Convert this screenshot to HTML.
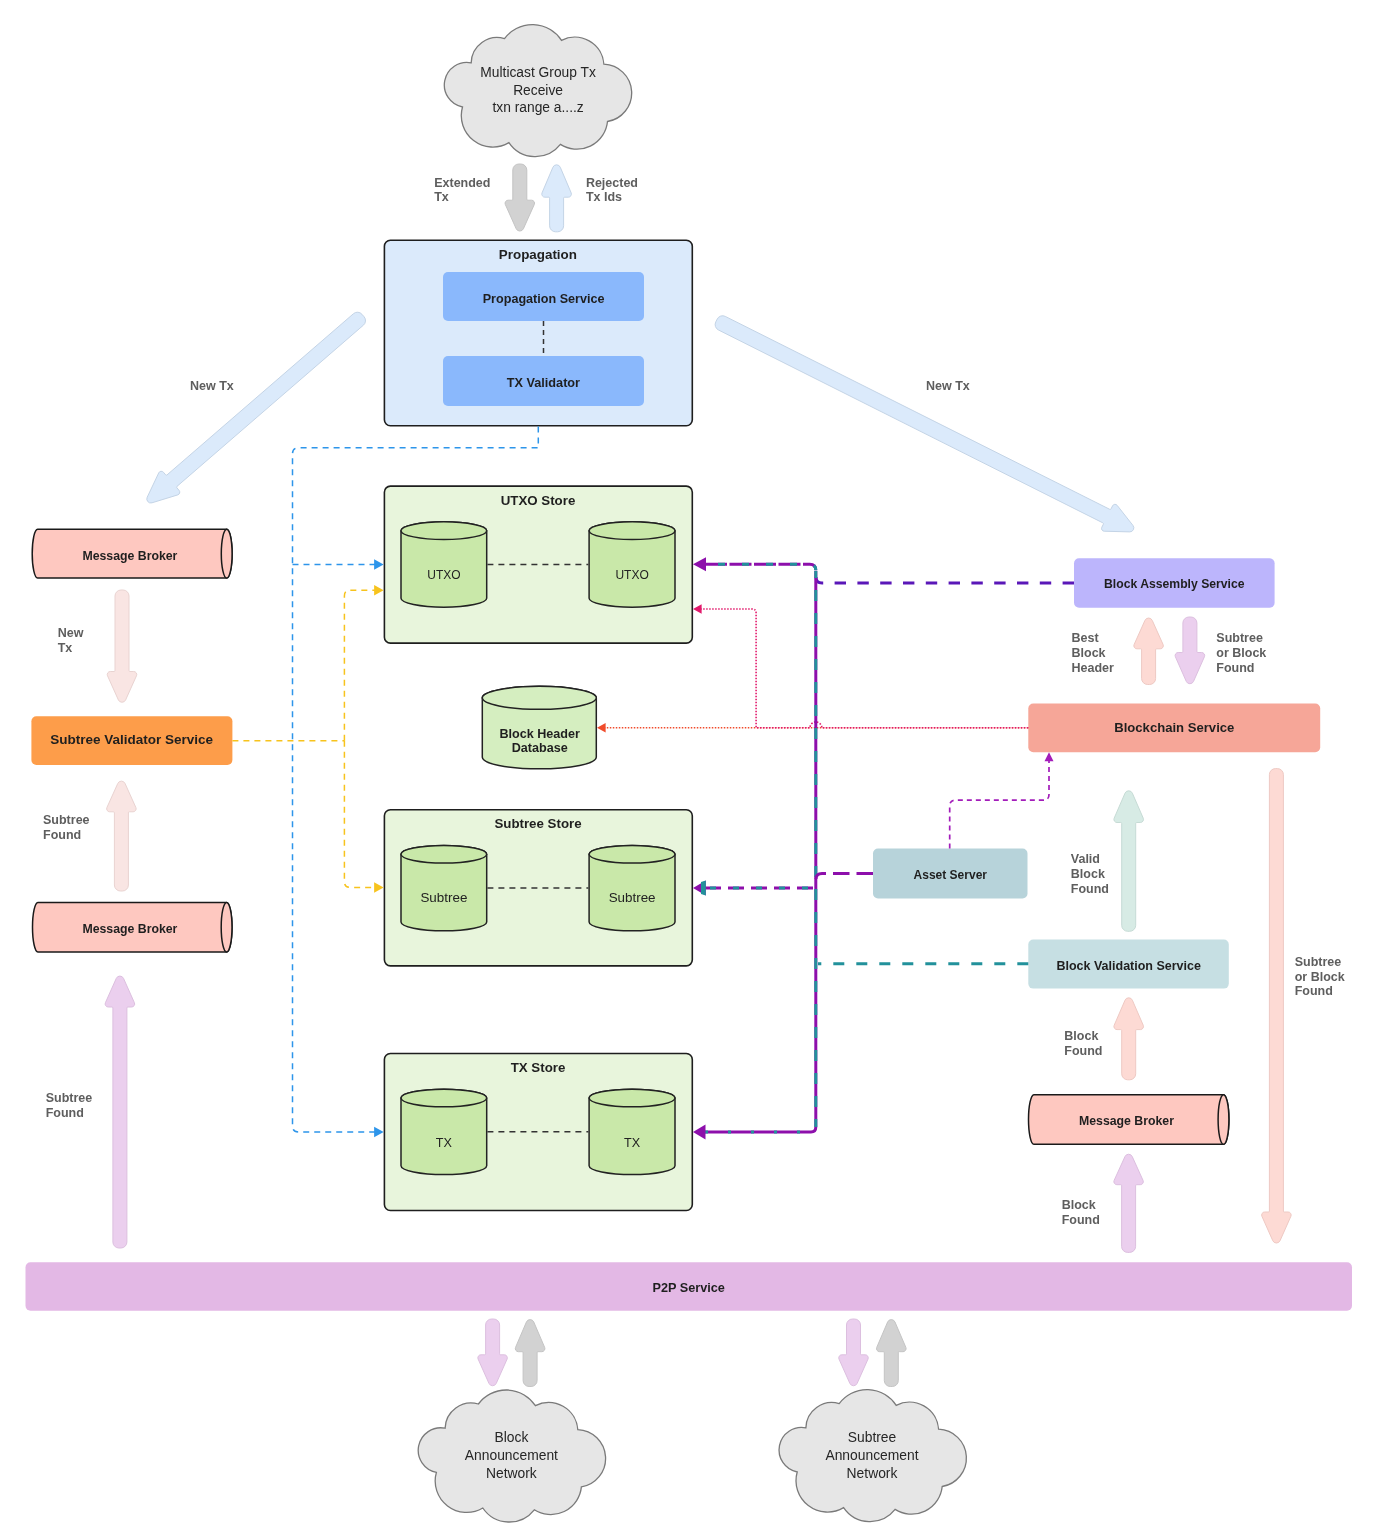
<!DOCTYPE html>
<html><head><meta charset="utf-8"><title>Teranode Architecture</title>
<style>html,body{margin:0;padding:0;background:#fff;} svg{display:block;will-change:transform;} text{font-family:"Liberation Sans", sans-serif;}</style>
</head><body>
<svg width="1379" height="1538" viewBox="0 0 1379 1538">
<rect width="1379" height="1538" fill="#ffffff"/>
<path d="M471.2,62.8 A26.01,26.01 0 0 1 504.5,38.6 A34.81,34.81 0 0 1 561.5,40.3 A29.13,29.13 0 0 1 603.9,64.2 A28.85,28.85 0 0 1 607.5,121.5 A30.77,30.77 0 0 1 560.4,144.4 A31.9,31.9 0 0 1 508.9,142.6 A31.46,31.46 0 0 1 462.5,107 A22.52,22.52 0 0 1 471.2,62.8 Z" fill="#e6e6e6" stroke="#7a7a7a" stroke-width="1.3"/>
<path d="M445.1,1428.2 A26.01,26.01 0 0 1 478.4,1404 A34.81,34.81 0 0 1 535.4,1405.7 A29.13,29.13 0 0 1 577.8,1429.6 A28.85,28.85 0 0 1 581.4,1486.9 A30.77,30.77 0 0 1 534.3,1509.8 A31.9,31.9 0 0 1 482.8,1508 A31.46,31.46 0 0 1 436.4,1472.4 A22.52,22.52 0 0 1 445.1,1428.2 Z" fill="#e6e6e6" stroke="#7a7a7a" stroke-width="1.3"/>
<path d="M805.9,1427.8 A26.01,26.01 0 0 1 839.2,1403.6 A34.81,34.81 0 0 1 896.2,1405.3 A29.13,29.13 0 0 1 938.6,1429.2 A28.85,28.85 0 0 1 942.2,1486.5 A30.77,30.77 0 0 1 895.1,1509.4 A31.9,31.9 0 0 1 843.6,1507.6 A31.46,31.46 0 0 1 797.2,1472 A22.52,22.52 0 0 1 805.9,1427.8 Z" fill="#e6e6e6" stroke="#7a7a7a" stroke-width="1.3"/>
<text x="538.1" y="76.6" font-size="13.8" font-weight="normal" fill="#262626" text-anchor="middle">Multicast Group Tx</text>
<text x="538.1" y="94.5" font-size="13.8" font-weight="normal" fill="#262626" text-anchor="middle">Receive</text>
<text x="538.1" y="112.4" font-size="13.8" font-weight="normal" fill="#262626" text-anchor="middle">txn range a....z</text>
<text x="511.4" y="1442.4" font-size="13.85" font-weight="normal" fill="#262626" text-anchor="middle">Block</text>
<text x="511.4" y="1460.4" font-size="13.85" font-weight="normal" fill="#262626" text-anchor="middle">Announcement</text>
<text x="511.4" y="1478.4" font-size="13.85" font-weight="normal" fill="#262626" text-anchor="middle">Network</text>
<text x="872" y="1441.8" font-size="13.85" font-weight="normal" fill="#262626" text-anchor="middle">Subtree</text>
<text x="872" y="1459.8" font-size="13.85" font-weight="normal" fill="#262626" text-anchor="middle">Announcement</text>
<text x="872" y="1477.8" font-size="13.85" font-weight="normal" fill="#262626" text-anchor="middle">Network</text>
<path d="M518.8,164 A6,6 0 0 0 512.8,170 L512.8,199.2 A1,1 0 0 1 511.8,200.2 L508.1,200.2 A3.05,3.05 0 0 0 505.32,204.49 L516.15,228.68 A4,4 0 0 0 523.45,228.68 L534.28,204.49 A3.05,3.05 0 0 0 531.5,200.2 L527.8,200.2 A1,1 0 0 1 526.8,199.2 L526.8,170 A6,6 0 0 0 520.8,164 Z" fill="#d2d2d2" stroke="#c4c4c4" stroke-width="1"/>
<path d="M557.6,231.8 A6,6 0 0 0 563.6,225.8 L563.6,198.2 A1,1 0 0 1 564.6,197.2 L568.3,197.2 A3.11,3.11 0 0 0 571.16,192.87 L560.28,167.26 A4,4 0 0 0 552.92,167.26 L542.04,192.87 A3.11,3.11 0 0 0 544.9,197.2 L548.6,197.2 A1,1 0 0 1 549.6,198.2 L549.6,225.8 A6,6 0 0 0 555.6,231.8 Z" fill="#dbeafb" stroke="#c4d4e6" stroke-width="1"/>
<path d="M361.95,314.29 A6,6 0 0 0 353.49,313.68 L167.04,474.9 A1,1 0 0 1 165.63,474.8 L163.44,472.26 A2.83,2.83 0 0 0 158.73,472.9 L147.2,497.26 A4,4 0 0 0 151.98,502.8 L177.76,494.9 A2.83,2.83 0 0 0 179.07,490.34 L176.88,487.81 A1,1 0 0 1 176.98,486.4 L363.43,325.17 A6,6 0 0 0 364.05,316.71 Z" fill="#dbeafb" stroke="#c4d4e6" stroke-width="1"/>
<path d="M715.78,321.93 A6,6 0 0 0 718.45,329.98 L1102.88,522.89 A1,1 0 0 1 1103.33,524.23 L1101.83,527.23 A2.76,2.76 0 0 0 1104.22,531.23 L1129.7,531.89 A4,4 0 0 0 1132.95,525.42 L1117.19,505.39 A2.76,2.76 0 0 0 1112.55,505.86 L1111.04,508.86 A1,1 0 0 1 1109.7,509.3 L725.27,316.4 A6,6 0 0 0 717.22,319.07 Z" fill="#dbeafb" stroke="#c4d4e6" stroke-width="1"/>
<path d="M121,590 A6,6 0 0 0 115,596 L115,670.5 A1,1 0 0 1 114,671.5 L110.3,671.5 A3.04,3.04 0 0 0 107.53,675.79 L118.35,699.89 A4,4 0 0 0 125.65,699.89 L136.47,675.79 A3.04,3.04 0 0 0 133.7,671.5 L130,671.5 A1,1 0 0 1 129,670.5 L129,596 A6,6 0 0 0 123,590 Z" fill="#f9e5e3" stroke="#e9d3d1" stroke-width="1"/>
<path d="M122.4,891 A6,6 0 0 0 128.4,885 L128.4,812.8 A1,1 0 0 1 129.4,811.8 L133.1,811.8 A3.04,3.04 0 0 0 135.87,807.52 L125.05,783.5 A4,4 0 0 0 117.75,783.5 L106.93,807.52 A3.04,3.04 0 0 0 109.7,811.8 L113.4,811.8 A1,1 0 0 1 114.4,812.8 L114.4,885 A6,6 0 0 0 120.4,891 Z" fill="#f9e5e3" stroke="#e9d3d1" stroke-width="1"/>
<path d="M120.9,1248 A6,6 0 0 0 126.9,1242 L126.9,1008 A1,1 0 0 1 127.9,1007 L131.6,1007 A3.05,3.05 0 0 0 134.39,1002.71 L123.55,978.43 A4,4 0 0 0 116.25,978.43 L105.41,1002.71 A3.05,3.05 0 0 0 108.2,1007 L111.9,1007 A1,1 0 0 1 112.9,1008 L112.9,1242 A6,6 0 0 0 118.9,1248 Z" fill="#ebcfee" stroke="#dcbfdf" stroke-width="1"/>
<path d="M1149.6,684.5 A6,6 0 0 0 1155.6,678.5 L1155.6,649.8 A1,1 0 0 1 1156.6,648.8 L1160.3,648.8 A3.04,3.04 0 0 0 1163.07,644.51 L1152.25,620.41 A4,4 0 0 0 1144.95,620.41 L1134.13,644.51 A3.04,3.04 0 0 0 1136.9,648.8 L1140.6,648.8 A1,1 0 0 1 1141.6,649.8 L1141.6,678.5 A6,6 0 0 0 1147.6,684.5 Z" fill="#fddad4" stroke="#eec9c3" stroke-width="1"/>
<path d="M1188.9,617 A6,6 0 0 0 1182.9,623 L1182.9,651.5 A1,1 0 0 1 1181.9,652.5 L1178.2,652.5 A3.06,3.06 0 0 0 1175.4,656.8 L1186.24,681.34 A4,4 0 0 0 1193.56,681.34 L1204.4,656.8 A3.06,3.06 0 0 0 1201.6,652.5 L1197.9,652.5 A1,1 0 0 1 1196.9,651.5 L1196.9,623 A6,6 0 0 0 1190.9,617 Z" fill="#ebcfee" stroke="#dcbfdf" stroke-width="1"/>
<path d="M1129.7,931.3 A6,6 0 0 0 1135.7,925.3 L1135.7,823.5 A1,1 0 0 1 1136.7,822.5 L1140.4,822.5 A3.08,3.08 0 0 0 1143.23,818.19 L1132.37,793.2 A4,4 0 0 0 1125.03,793.2 L1114.17,818.19 A3.08,3.08 0 0 0 1117,822.5 L1120.7,822.5 A1,1 0 0 1 1121.7,823.5 L1121.7,925.3 A6,6 0 0 0 1127.7,931.3 Z" fill="#d7ebe5" stroke="#c6dbd5" stroke-width="1"/>
<path d="M1129.7,1079.8 A6,6 0 0 0 1135.7,1073.8 L1135.7,1030.6 A1,1 0 0 1 1136.7,1029.6 L1140.4,1029.6 A3.09,3.09 0 0 0 1143.23,1025.29 L1132.37,1000.21 A4,4 0 0 0 1125.03,1000.21 L1114.17,1025.29 A3.09,3.09 0 0 0 1117,1029.6 L1120.7,1029.6 A1,1 0 0 1 1121.7,1030.6 L1121.7,1073.8 A6,6 0 0 0 1127.7,1079.8 Z" fill="#fddad4" stroke="#eec9c3" stroke-width="1"/>
<path d="M1129.6,1252.4 A6,6 0 0 0 1135.6,1246.4 L1135.6,1185.7 A1,1 0 0 1 1136.6,1184.7 L1140.3,1184.7 A3.03,3.03 0 0 0 1143.06,1180.42 L1132.24,1156.58 A4,4 0 0 0 1124.96,1156.58 L1114.14,1180.42 A3.03,3.03 0 0 0 1116.9,1184.7 L1120.6,1184.7 A1,1 0 0 1 1121.6,1185.7 L1121.6,1246.4 A6,6 0 0 0 1127.6,1252.4 Z" fill="#ebcfee" stroke="#dcbfdf" stroke-width="1"/>
<path d="M1275.4,768.6 A6,6 0 0 0 1269.4,774.6 L1269.4,1211 A1,1 0 0 1 1268.4,1212 L1264.7,1212 A3.05,3.05 0 0 0 1261.91,1216.29 L1272.75,1240.66 A4,4 0 0 0 1280.05,1240.66 L1290.89,1216.29 A3.05,3.05 0 0 0 1288.1,1212 L1284.4,1212 A1,1 0 0 1 1283.4,1211 L1283.4,774.6 A6,6 0 0 0 1277.4,768.6 Z" fill="#fddad4" stroke="#eec9c3" stroke-width="1"/>
<path d="M491.6,1319 A6,6 0 0 0 485.6,1325 L485.6,1353.8 A1,1 0 0 1 484.6,1354.8 L480.9,1354.8 A3.05,3.05 0 0 0 478.11,1359.09 L488.95,1383.37 A4,4 0 0 0 496.25,1383.37 L507.09,1359.09 A3.05,3.05 0 0 0 504.3,1354.8 L500.6,1354.8 A1,1 0 0 1 499.6,1353.8 L499.6,1325 A6,6 0 0 0 493.6,1319 Z" fill="#ebcfee" stroke="#dcbfdf" stroke-width="1"/>
<path d="M531.1,1386.5 A6,6 0 0 0 537.1,1380.5 L537.1,1352.7 A1,1 0 0 1 538.1,1351.7 L541.8,1351.7 A3.1,3.1 0 0 0 544.65,1347.38 L533.78,1322.03 A4,4 0 0 0 526.42,1322.03 L515.55,1347.38 A3.1,3.1 0 0 0 518.4,1351.7 L522.1,1351.7 A1,1 0 0 1 523.1,1352.7 L523.1,1380.5 A6,6 0 0 0 529.1,1386.5 Z" fill="#d2d2d2" stroke="#c4c4c4" stroke-width="1"/>
<path d="M852.5,1319 A6,6 0 0 0 846.5,1325 L846.5,1353.8 A1,1 0 0 1 845.5,1354.8 L841.8,1354.8 A3.05,3.05 0 0 0 839.01,1359.09 L849.85,1383.37 A4,4 0 0 0 857.15,1383.37 L867.99,1359.09 A3.05,3.05 0 0 0 865.2,1354.8 L861.5,1354.8 A1,1 0 0 1 860.5,1353.8 L860.5,1325 A6,6 0 0 0 854.5,1319 Z" fill="#ebcfee" stroke="#dcbfdf" stroke-width="1"/>
<path d="M892.3,1386.5 A6,6 0 0 0 898.3,1380.5 L898.3,1352.7 A1,1 0 0 1 899.3,1351.7 L903,1351.7 A3.1,3.1 0 0 0 905.85,1347.38 L894.98,1322.03 A4,4 0 0 0 887.62,1322.03 L876.75,1347.38 A3.1,3.1 0 0 0 879.6,1351.7 L883.3,1351.7 A1,1 0 0 1 884.3,1352.7 L884.3,1380.5 A6,6 0 0 0 890.3,1386.5 Z" fill="#d2d2d2" stroke="#c4c4c4" stroke-width="1"/>
<text x="434.2" y="186.5" font-size="12.5" font-weight="bold" fill="#5e5e5e" text-anchor="start">Extended</text>
<text x="434.2" y="201.4" font-size="12.5" font-weight="bold" fill="#5e5e5e" text-anchor="start">Tx</text>
<text x="585.9" y="186.5" font-size="12.5" font-weight="bold" fill="#5e5e5e" text-anchor="start">Rejected</text>
<text x="585.9" y="201.4" font-size="12.5" font-weight="bold" fill="#5e5e5e" text-anchor="start">Tx Ids</text>
<text x="190" y="390.3" font-size="12.5" font-weight="bold" fill="#5e5e5e" text-anchor="start">New Tx</text>
<text x="926" y="389.9" font-size="12.5" font-weight="bold" fill="#5e5e5e" text-anchor="start">New Tx</text>
<text x="57.7" y="637" font-size="12.5" font-weight="bold" fill="#5e5e5e" text-anchor="start">New</text>
<text x="57.7" y="651.9" font-size="12.5" font-weight="bold" fill="#5e5e5e" text-anchor="start">Tx</text>
<text x="43" y="823.6" font-size="12.5" font-weight="bold" fill="#5e5e5e" text-anchor="start">Subtree</text>
<text x="43" y="838.5" font-size="12.5" font-weight="bold" fill="#5e5e5e" text-anchor="start">Found</text>
<text x="45.7" y="1102.3" font-size="12.5" font-weight="bold" fill="#5e5e5e" text-anchor="start">Subtree</text>
<text x="45.7" y="1117.2" font-size="12.5" font-weight="bold" fill="#5e5e5e" text-anchor="start">Found</text>
<text x="1071.5" y="642.2" font-size="12.5" font-weight="bold" fill="#5e5e5e" text-anchor="start">Best</text>
<text x="1071.5" y="657.1" font-size="12.5" font-weight="bold" fill="#5e5e5e" text-anchor="start">Block</text>
<text x="1071.5" y="672" font-size="12.5" font-weight="bold" fill="#5e5e5e" text-anchor="start">Header</text>
<text x="1216.3" y="642.2" font-size="12.5" font-weight="bold" fill="#5e5e5e" text-anchor="start">Subtree</text>
<text x="1216.3" y="657.1" font-size="12.5" font-weight="bold" fill="#5e5e5e" text-anchor="start">or Block</text>
<text x="1216.3" y="672" font-size="12.5" font-weight="bold" fill="#5e5e5e" text-anchor="start">Found</text>
<text x="1070.8" y="863" font-size="12.5" font-weight="bold" fill="#5e5e5e" text-anchor="start">Valid</text>
<text x="1070.8" y="877.9" font-size="12.5" font-weight="bold" fill="#5e5e5e" text-anchor="start">Block</text>
<text x="1070.8" y="892.8" font-size="12.5" font-weight="bold" fill="#5e5e5e" text-anchor="start">Found</text>
<text x="1294.7" y="965.6" font-size="12.5" font-weight="bold" fill="#5e5e5e" text-anchor="start">Subtree</text>
<text x="1294.7" y="980.5" font-size="12.5" font-weight="bold" fill="#5e5e5e" text-anchor="start">or Block</text>
<text x="1294.7" y="995.4" font-size="12.5" font-weight="bold" fill="#5e5e5e" text-anchor="start">Found</text>
<text x="1064.3" y="1040.2" font-size="12.5" font-weight="bold" fill="#5e5e5e" text-anchor="start">Block</text>
<text x="1064.3" y="1055.1" font-size="12.5" font-weight="bold" fill="#5e5e5e" text-anchor="start">Found</text>
<text x="1061.7" y="1208.6" font-size="12.5" font-weight="bold" fill="#5e5e5e" text-anchor="start">Block</text>
<text x="1061.7" y="1223.5" font-size="12.5" font-weight="bold" fill="#5e5e5e" text-anchor="start">Found</text>
<rect x="384.4" y="240.2" width="307.9" height="185.6" rx="6" fill="#dbeafb" stroke="#1e1e1e" stroke-width="1.6"/>
<text x="537.9" y="259.1" font-size="13.4" font-weight="bold" fill="#1f1f1f" text-anchor="middle">Propagation</text>
<rect x="443" y="272" width="201" height="49" rx="5" fill="#8ab8fc"/>
<rect x="443" y="356" width="201" height="50" rx="5" fill="#8ab8fc"/>
<text x="543.6" y="302.7" font-size="12.6" font-weight="bold" fill="#1f1f1f" text-anchor="middle">Propagation Service</text>
<text x="543.4" y="387" font-size="12.7" font-weight="bold" fill="#1f1f1f" text-anchor="middle">TX Validator</text>
<path d="M543.5,321 V356" fill="none" stroke="#333" stroke-width="1.5" stroke-dasharray="5 4"/>
<rect x="384.4" y="486.15" width="307.9" height="157" rx="6" fill="#e8f5dc" stroke="#1e1e1e" stroke-width="1.6"/>
<text x="538" y="504.6" font-size="13.3" font-weight="bold" fill="#1f1f1f" text-anchor="middle">UTXO Store</text>
<path d="M401,530.65 L401,598.35 A42.85,8.8 0 0 0 486.7,598.35 L486.7,530.65 A42.85,8.8 0 0 0 401,530.65 Z" fill="#c9e8a9" stroke="#222" stroke-width="1.5"/>
<ellipse cx="443.85" cy="530.65" rx="42.85" ry="8.8" fill="#c9e8a9" stroke="#222" stroke-width="1.5"/>
<path d="M589.1,530.65 L589.1,598.35 A42.95,8.8 0 0 0 675,598.35 L675,530.65 A42.95,8.8 0 0 0 589.1,530.65 Z" fill="#c9e8a9" stroke="#222" stroke-width="1.5"/>
<ellipse cx="632.05" cy="530.65" rx="42.95" ry="8.8" fill="#c9e8a9" stroke="#222" stroke-width="1.5"/>
<path d="M487.4,564.45 H588.4" fill="none" stroke="#333" stroke-width="1.5" stroke-dasharray="6 5"/>
<text x="443.9" y="578.5" font-size="12.0" font-weight="normal" fill="#222" text-anchor="middle">UTXO</text>
<text x="632.1" y="578.5" font-size="12.0" font-weight="normal" fill="#222" text-anchor="middle">UTXO</text>
<rect x="384.4" y="809.75" width="307.9" height="156.1" rx="6" fill="#e8f5dc" stroke="#1e1e1e" stroke-width="1.6"/>
<text x="538" y="827.8" font-size="13.3" font-weight="bold" fill="#1f1f1f" text-anchor="middle">Subtree Store</text>
<path d="M401,854.25 L401,921.95 A42.85,8.8 0 0 0 486.7,921.95 L486.7,854.25 A42.85,8.8 0 0 0 401,854.25 Z" fill="#c9e8a9" stroke="#222" stroke-width="1.5"/>
<ellipse cx="443.85" cy="854.25" rx="42.85" ry="8.8" fill="#c9e8a9" stroke="#222" stroke-width="1.5"/>
<path d="M589.1,854.25 L589.1,921.95 A42.95,8.8 0 0 0 675,921.95 L675,854.25 A42.95,8.8 0 0 0 589.1,854.25 Z" fill="#c9e8a9" stroke="#222" stroke-width="1.5"/>
<ellipse cx="632.05" cy="854.25" rx="42.95" ry="8.8" fill="#c9e8a9" stroke="#222" stroke-width="1.5"/>
<path d="M487.4,888.05 H588.4" fill="none" stroke="#333" stroke-width="1.5" stroke-dasharray="6 5"/>
<text x="443.9" y="902.1" font-size="13.4" font-weight="normal" fill="#222" text-anchor="middle">Subtree</text>
<text x="632.1" y="902.1" font-size="13.4" font-weight="normal" fill="#222" text-anchor="middle">Subtree</text>
<rect x="384.4" y="1053.55" width="307.9" height="157" rx="6" fill="#e8f5dc" stroke="#1e1e1e" stroke-width="1.6"/>
<text x="538" y="1071.9" font-size="13.3" font-weight="bold" fill="#1f1f1f" text-anchor="middle">TX Store</text>
<path d="M401,1098.05 L401,1165.75 A42.85,8.8 0 0 0 486.7,1165.75 L486.7,1098.05 A42.85,8.8 0 0 0 401,1098.05 Z" fill="#c9e8a9" stroke="#222" stroke-width="1.5"/>
<ellipse cx="443.85" cy="1098.05" rx="42.85" ry="8.8" fill="#c9e8a9" stroke="#222" stroke-width="1.5"/>
<path d="M589.1,1098.05 L589.1,1165.75 A42.95,8.8 0 0 0 675,1165.75 L675,1098.05 A42.95,8.8 0 0 0 589.1,1098.05 Z" fill="#c9e8a9" stroke="#222" stroke-width="1.5"/>
<ellipse cx="632.05" cy="1098.05" rx="42.95" ry="8.8" fill="#c9e8a9" stroke="#222" stroke-width="1.5"/>
<path d="M487.4,1131.85 H588.4" fill="none" stroke="#333" stroke-width="1.5" stroke-dasharray="6 5"/>
<text x="443.9" y="1146.9" font-size="12.6" font-weight="normal" fill="#222" text-anchor="middle">TX</text>
<text x="632.1" y="1146.9" font-size="12.6" font-weight="normal" fill="#222" text-anchor="middle">TX</text>
<path d="M482.3,697.8 L482.3,757.3 A57,11.5 0 0 0 596.3,757.3 L596.3,697.8 A57,11.5 0 0 0 482.3,697.8 Z" fill="#d5eec0" stroke="#222" stroke-width="1.5"/>
<ellipse cx="539.3" cy="697.8" rx="57" ry="11.5" fill="#d5eec0" stroke="#222" stroke-width="1.5"/>
<text x="539.7" y="737.5" font-size="12.6" font-weight="bold" fill="#1f1f1f" text-anchor="middle">Block Header</text>
<text x="539.7" y="752" font-size="12.6" font-weight="bold" fill="#1f1f1f" text-anchor="middle">Database</text>
<path d="M37.6,529.2 L226.7,529.2 A5.4,24.45 0 0 1 226.7,578.1 L37.6,578.1 A5.4,24.45 0 0 1 37.6,529.2 Z" fill="#fec8c0" stroke="#1a1a1a" stroke-width="1.5"/>
<ellipse cx="226.7" cy="553.65" rx="5.4" ry="24.45" fill="#fec8c0" stroke="#1a1a1a" stroke-width="1.5"/>
<text x="129.9" y="559.5" font-size="12.3" font-weight="bold" fill="#1f1f1f" text-anchor="middle">Message Broker</text>
<rect x="31.4" y="716.3" width="201" height="48.7" rx="5" fill="#fd9d4a"/>
<text x="131.7" y="744.4" font-size="13.5" font-weight="bold" fill="#1f1f1f" text-anchor="middle">Subtree Validator Service</text>
<path d="M37.9,902.4 L226.6,902.4 A5.4,24.8 0 0 1 226.6,952 L37.9,952 A5.4,24.8 0 0 1 37.9,902.4 Z" fill="#fec8c0" stroke="#1a1a1a" stroke-width="1.5"/>
<ellipse cx="226.6" cy="927.2" rx="5.4" ry="24.8" fill="#fec8c0" stroke="#1a1a1a" stroke-width="1.5"/>
<text x="129.9" y="932.7" font-size="12.3" font-weight="bold" fill="#1f1f1f" text-anchor="middle">Message Broker</text>
<rect x="1074" y="558.2" width="200.6" height="49.5" rx="5" fill="#bcb5fc"/>
<text x="1174.3" y="588.2" font-size="12.2" font-weight="bold" fill="#1f1f1f" text-anchor="middle">Block Assembly Service</text>
<rect x="1028.3" y="703.5" width="291.9" height="48.7" rx="5" fill="#f6a698"/>
<text x="1174.3" y="732.1" font-size="13.1" font-weight="bold" fill="#1f1f1f" text-anchor="middle">Blockchain Service</text>
<rect x="873" y="848.5" width="154.5" height="49.9" rx="5" fill="#b7d3da"/>
<text x="950.3" y="878.8" font-size="12.0" font-weight="bold" fill="#1f1f1f" text-anchor="middle">Asset Server</text>
<rect x="1028.3" y="939.6" width="200.5" height="49" rx="5" fill="#c6dfe3"/>
<text x="1128.7" y="969.6" font-size="12.5" font-weight="bold" fill="#1f1f1f" text-anchor="middle">Block Validation Service</text>
<path d="M1033.9,1094.7 L1223.5,1094.7 A5.4,24.8 0 0 1 1223.5,1144.3 L1033.9,1144.3 A5.4,24.8 0 0 1 1033.9,1094.7 Z" fill="#fec8c0" stroke="#1a1a1a" stroke-width="1.5"/>
<ellipse cx="1223.5" cy="1119.5" rx="5.4" ry="24.8" fill="#fec8c0" stroke="#1a1a1a" stroke-width="1.5"/>
<text x="1126.5" y="1124.9" font-size="12.3" font-weight="bold" fill="#1f1f1f" text-anchor="middle">Message Broker</text>
<rect x="25.5" y="1262.3" width="1326.5" height="48.5" rx="5" fill="#e3b8e5"/>
<text x="688.7" y="1291.9" font-size="12.7" font-weight="bold" fill="#1f1f1f" text-anchor="middle">P2P Service</text>
<path d="M538.3,426.5 V447.8 H298.5 Q292.5,447.8 292.5,453.8 V1126 Q292.5,1132 298.5,1132 H376" fill="none" stroke="#2d95ea" stroke-width="1.5" stroke-dasharray="6 5"/>
<path d="M292.5,564.4 H376" fill="none" stroke="#2d95ea" stroke-width="1.5" stroke-dasharray="6 5"/>
<path d="M383.6,564.4 L374.1,569.65 L374.1,559.15 Z" fill="#2d95ea"/>
<path d="M383.6,1132 L374.1,1137.25 L374.1,1126.75 Z" fill="#2d95ea"/>
<path d="M232.4,740.7 H344.4" fill="none" stroke="#f7c31d" stroke-width="1.5" stroke-dasharray="6 5"/>
<path d="M344.4,740.7 V596 Q344.4,590.2 350.2,590.2 H376" fill="none" stroke="#f7c31d" stroke-width="1.5" stroke-dasharray="6 5"/>
<path d="M344.4,740.7 V881.6 Q344.4,887.4 350.2,887.4 H376" fill="none" stroke="#f7c31d" stroke-width="1.5" stroke-dasharray="6 5"/>
<path d="M383.6,590.2 L374.1,595.45 L374.1,584.95 Z" fill="#f7c31d"/>
<path d="M383.6,887.4 L374.1,892.65 L374.1,882.15 Z" fill="#f7c31d"/>
<path d="M1028.3,727.8 H604" fill="none" stroke="#f04c2c" stroke-width="1.6" stroke-dasharray="1.5 1.5"/>
<path d="M597,727.8 L605.6,723.1 L605.6,732.5 Z" fill="#f04c2c"/>
<path d="M1028.3,727.8 H821.8 A5.9,5.9 0 0 0 810,727.8 H756.1 V613 Q756.1,609 752.1,609 H701" fill="none" stroke="#e2196b" stroke-width="1.6" stroke-dasharray="1.5 1.5"/>
<path d="M693,609 L701.6,604.3 L701.6,613.7 Z" fill="#e2196b"/>
<path d="M1074,583 H822 Q816,583 816,577" fill="none" stroke="#5a17b8" stroke-width="3" stroke-dasharray="11.4 11.4"/>
<path d="M815.8,571 V1127" fill="none" stroke="#8d0fab" stroke-width="3"/>
<path d="M815.8,571 V1127" fill="none" stroke="#22919b" stroke-width="3" stroke-dasharray="11 12" stroke-dashoffset="4"/>
<path d="M705,564.3 H809.8 Q815.8,564.3 815.8,570.3" fill="none" stroke="#8d0fab" stroke-width="3" stroke-dasharray="22 2.5"/>
<path d="M705,564.3 H809.8 Q815.8,564.3 815.8,570.3" fill="none" stroke="#22919b" stroke-width="3" stroke-dasharray="7 17" stroke-dashoffset="-13"/>
<path d="M705,1132 H811 Q815.8,1132 815.8,1127" fill="none" stroke="#8d0fab" stroke-width="3"/>
<path d="M705,1132 H811" fill="none" stroke="#22919b" stroke-width="3" stroke-dasharray="3 20"/>
<path d="M705,888 H815.8" fill="none" stroke="#8d0fab" stroke-width="3" stroke-dasharray="16 7"/>
<path d="M705,888 H815.8" fill="none" stroke="#22919b" stroke-width="3" stroke-dasharray="6 17" stroke-dashoffset="-5"/>
<path d="M693,564.3 L706,557.3 L706,571.3 Z" fill="#8d0fab"/>
<path d="M693,888 L705.8,880.5 L705.8,895.5 Z" fill="#8d0fab"/>
<path d="M701,882 L705.8,880.6 L705.8,895.5 L701,894 Z" fill="#22919b"/>
<path d="M693,1132 L705.5,1124.5 L705.5,1139.5 Z" fill="#8d0fab"/>
<path d="M873,873.4 H822 Q816,873.4 816,879" fill="none" stroke="#8d0fab" stroke-width="3" stroke-dasharray="16.5 7"/>
<path d="M1028.3,963.8 H818" fill="none" stroke="#22919b" stroke-width="3" stroke-dasharray="11 12"/>
<path d="M949.7,848.5 V806 Q949.7,800.2 955.5,800.2 H1043.2 Q1049,800.2 1049,794.4 V760" fill="none" stroke="#a31cba" stroke-width="1.7" stroke-dasharray="5 4"/>
<path d="M1049,752.2 L1053.5,761.2 L1044.5,761.2 Z" fill="#a31cba"/>
</svg>
</body></html>
